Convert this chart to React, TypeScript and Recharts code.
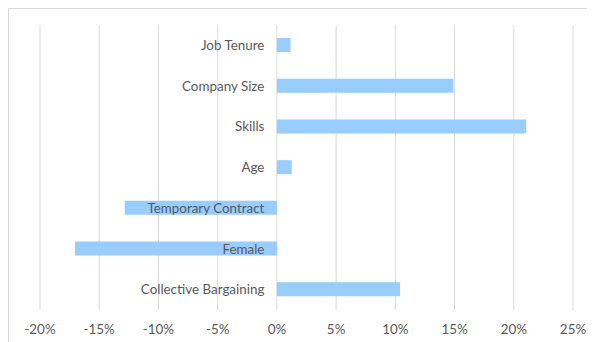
import React from "react";
import { BarChart, Bar, XAxis, YAxis, CartesianGrid, LabelList } from "recharts";

const categories = [
  "Job Tenure",
  "Company Size",
  "Skills",
  "Age",
  "Temporary Contract",
  "Female",
  "Collective Bargaining",
];
const values = [1.15, 14.9, 21.05, 1.25, -12.85, -17.05, 10.4];
const xTicks = [-20, -15, -10, -5, 0, 5, 10, 15, 20, 25];

const data = categories.map((name, i) => ({ name, value: values[i] }));

const FONT = "Lato, 'Open Sans', sans-serif";
const TEXT = "#595959";

const CategoryLabel = (props: any) => {
  const { x, y, width, height, index } = props;
  const v = values[index];
  const x1 = Number(x);
  const x2 = Number(x) + Number(width);
  const zeroX = v >= 0 ? Math.min(x1, x2) : Math.max(x1, x2);
  return (
    <text
      x={zeroX - 12.5}
      y={Number(y) + Number(height) / 2}
      textAnchor="end"
      dominantBaseline="central"
      fill={TEXT}
      fontSize={13.4}
      fontFamily={FONT}
    >
      {categories[index]}
    </text>
  );
};

export default function App() {
  return (
    <div
      style={{
        width: 586,
        height: 333,
        borderTop: "1px solid #D9D9D9",
        borderLeft: "1px solid #D9D9D9",
        background: "#fff",
      }}
    >
      <BarChart
        width={586}
        height={333}
        data={data}
        layout="vertical"
        margin={{ top: 16, right: 22, bottom: 2, left: 31 }}
      >
        <CartesianGrid horizontal={false} vertical={true} stroke="#D9D9D9" strokeWidth={1} />
        <XAxis
          type="number"
          domain={[-20, 25]}
          ticks={xTicks}
          tickFormatter={(v: number) => `${Math.round(v)}%`}
          axisLine={false}
          tickLine={false}
          tickSize={0}
          tickMargin={14}
          height={30}
          tick={{ fill: TEXT, fontSize: 13.4, fontFamily: FONT }}
          interval={0}
        />
        <YAxis type="category" dataKey="name" hide width={0} />
        <Bar dataKey="value" fill="#99CCFF" barSize={14} isAnimationActive={false}>
          <LabelList dataKey="value" content={<CategoryLabel />} />
        </Bar>
      </BarChart>
    </div>
  );
}
